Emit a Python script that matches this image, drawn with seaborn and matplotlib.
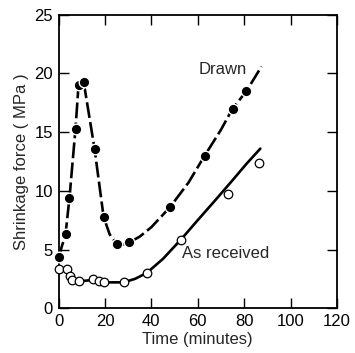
import matplotlib
matplotlib.use('Agg')
import matplotlib.pyplot as plt
import numpy as np
import pandas as pd
import seaborn as sns

drawn_t = [0, 3, 4.7, 7.3, 8.6, 10.8, 15.5, 19.4, 25, 30.5, 48, 63, 75, 81]
drawn_f = [4.35, 6.3, 9.4, 15.3, 19.0, 19.3, 13.6, 7.8, 5.5, 5.6, 8.6, 13.0, 17.0, 18.5]

recv_t = [0, 3.5, 5, 6, 8.6, 14.8, 17.5, 19.8, 28, 38.3, 53, 73, 86.5]
recv_f = [3.3, 3.3, 2.7, 2.4, 2.3, 2.5, 2.3, 2.2, 2.2, 3.0, 5.8, 9.7, 12.4]

# hand-drawn trend curves
drawn_curve_t = [0, 3, 4.7, 7.3, 8.6, 10.8, 15.5, 19.4, 22, 25, 27.5, 30.5, 35, 40, 48, 56, 63, 70, 75, 81, 87.5]
drawn_curve_f = [4.35, 6.3, 9.4, 15.3, 19.0, 19.3, 13.6, 7.8, 6.3, 5.5, 5.4, 5.6, 6.1, 6.9, 8.6, 10.7, 13.0, 15.2, 17.0, 18.5, 20.6]

recv_curve_t = [0, 3.5, 6, 9, 15, 20, 28, 33, 38, 45, 53, 60, 68, 75, 81, 87]
recv_curve_f = [3.3, 3.3, 2.5, 2.3, 2.4, 2.2, 2.2, 2.5, 3.0, 4.2, 5.9, 7.5, 9.3, 10.9, 12.3, 13.6]

x_ticks = [0, 20, 40, 60, 80, 100, 120]
y_ticks = [0, 5, 10, 15, 20, 25]

sns.set_style("ticks")
plt.rcParams['font.family'] = ['Liberation Sans', 'DejaVu Sans']

fig = plt.figure(figsize=(3.55, 3.53), dpi=100)
ax = fig.add_axes([0.165, 0.127, 0.784, 0.831])

# Drawn: dashed curve + filled dots
sns.lineplot(x=drawn_curve_t, y=drawn_curve_f, sort=False, estimator=None, ax=ax,
             color='black', linewidth=1.9)
ax.lines[-1].set_dashes((6, 1.6))
sns.scatterplot(x=drawn_t, y=drawn_f, ax=ax, color='black', s=58,
                edgecolor='white', linewidth=1.0, zorder=3, clip_on=False)

# As received: solid curve + open dots
sns.lineplot(x=recv_curve_t, y=recv_curve_f, sort=False, estimator=None, ax=ax,
             color='black', linewidth=1.9)
sns.scatterplot(x=recv_t, y=recv_f, ax=ax, color='white', s=38,
                edgecolor='black', linewidth=0.9, zorder=3, clip_on=False)

ax.set_xlim(0, 120)
ax.set_ylim(0, 25)
ax.set_xticks(x_ticks)
ax.set_yticks(y_ticks)
ax.tick_params(direction='in', length=7, width=1.0, top=True, right=True,
               labelsize=12, pad=4, color='black', labelcolor='black')
for s in ax.spines.values():
    s.set_linewidth(1.3)
    s.set_color('black')

ax.set_xlabel('Time (minutes)', fontsize=12, labelpad=2)
ax.set_ylabel('Shrinkage force ( MPa )', fontsize=12, labelpad=4)

ax.text(71, 20.3, 'Drawn', fontsize=12, ha='center', va='center')
ax.text(72, 4.7, 'As received', fontsize=12, ha='center', va='center')

fig.savefig('out.png', dpi=100)
